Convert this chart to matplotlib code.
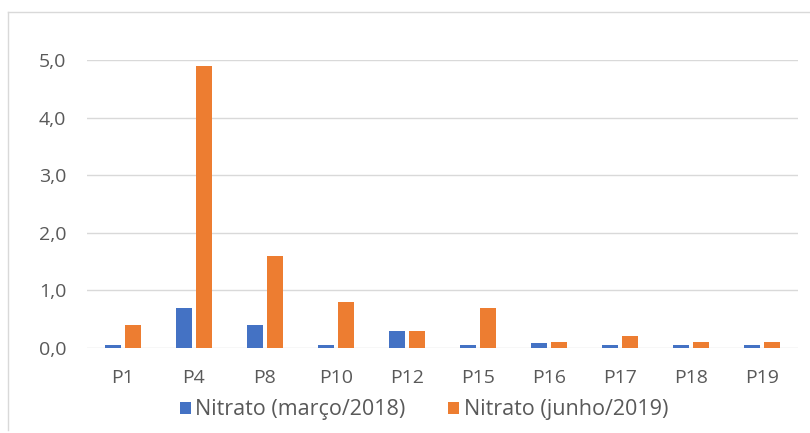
import numpy as np
import matplotlib.pyplot as plt
from matplotlib.lines import Line2D
from matplotlib.ticker import FuncFormatter

plt.rcParams['font.family'] = ['Open Sans', 'DejaVu Sans']

pontos = ["P1", "P4", "P8", "P10", "P12", "P15", "P16", "P17", "P18", "P19"]
nitrato_2018 = [0.05, 0.7, 0.4, 0.05, 0.3, 0.05, 0.08, 0.05, 0.05, 0.05]
nitrato_2019 = [0.4, 4.9, 1.6, 0.8, 0.3, 0.7, 0.1, 0.2, 0.1, 0.1]
rotulos = ["Nitrato (março/2018)", "Nitrato (junho/2019)"]

azul = "#4472C4"
laranja = "#ED7D31"
cinza_texto = "#595959"
cinza_linha = "#D9D9D9"

fig = plt.figure(figsize=(8.10, 4.33), dpi=100)
ax = fig.add_axes([87 / 810, 1 - 348 / 433, (798 - 87) / 810, (348 - 60) / 433])

x = np.arange(len(pontos))
largura = 0.225
desloc = 0.141
ax.bar(x - desloc, nitrato_2018, largura, color=azul, label=rotulos[0], zorder=3)
ax.bar(x + desloc, nitrato_2019, largura, color=laranja, label=rotulos[1], zorder=3)

ax.set_xlim(-0.5, len(pontos) - 0.5)
ax.set_ylim(0, 5)
ax.set_yticks(np.arange(0, 5.1, 1.0))
ax.yaxis.set_major_formatter(FuncFormatter(lambda v, p: f"{v:.1f}".replace(".", ",")))
ax.set_xticks(x)
ax.set_xticklabels(pontos)

for s in ax.spines.values():
    s.set_visible(False)
ax.yaxis.grid(True, color=cinza_linha, linewidth=1.0, zorder=0)
ax.set_axisbelow(True)
ax.tick_params(axis='both', length=0, labelsize=14, labelcolor=cinza_texto)
ax.tick_params(axis='x', pad=15)
ax.tick_params(axis='y', pad=15)

leg = fig.legend(loc='center', bbox_to_anchor=(424 / 810, 1 - 410 / 433), ncol=2,
                 frameon=False, fontsize=15.5, handlelength=0.5, handleheight=0.5,
                 handletextpad=0.2, columnspacing=2.0)
for t in leg.get_texts():
    t.set_color(cinza_texto)

# moldura clara do gráfico (esquerda e topo)
fig.add_artist(Line2D([8 / 810, 8 / 810], [1 - 430 / 433, 1 - 12 / 433], color=cinza_linha, linewidth=1))
fig.add_artist(Line2D([8 / 810, 1], [1 - 12 / 433, 1 - 12 / 433], color=cinza_linha, linewidth=1))

fig.savefig("out.png", dpi=100)
